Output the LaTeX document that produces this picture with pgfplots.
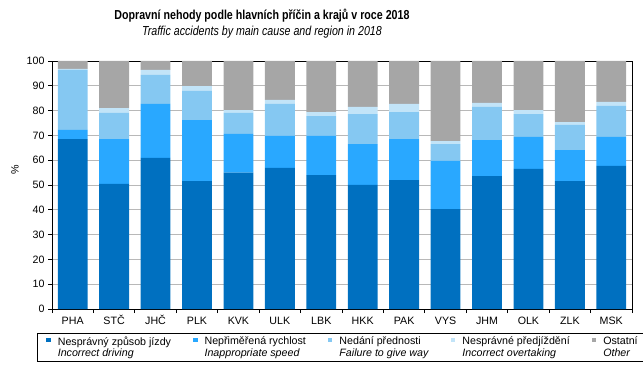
\documentclass[border=0pt]{standalone}
\usepackage{pgfplots}
\pgfplotsset{compat=1.18}
\usepackage{pgfplotstable}
\usepackage{fontspec}
\setmainfont{Liberation Sans}
\newfontfamily\narrowfont[FakeStretch=0.82]{Liberation Sans}
\definecolor{cA}{HTML}{0070C0}
\definecolor{cB}{HTML}{29A8FF}
\definecolor{cC}{HTML}{85C8F2}
\definecolor{cD}{HTML}{C2E4F8}
\definecolor{cE}{HTML}{A6A6A6}
\definecolor{gridc}{HTML}{B8B8B8}
\pgfplotstableread{
x a b c d e
0 68.5 3.7 24.2 0.4 3.2
1 50.5 18.0 10.7 1.8 19.0
2 60.9 21.8 11.7 2.0 3.6
3 51.6 24.6 11.8 1.9 10.1
4 55.0 15.6 8.6 1.0 19.8
5 56.9 12.9 12.9 1.6 15.7
6 54.0 15.8 8.0 1.6 20.6
7 50.0 16.5 12.1 2.9 18.5
8 52.0 16.5 10.9 3.3 17.3
9 40.3 19.4 6.8 1.2 32.3
10 53.6 14.5 13.4 1.6 16.9
11 56.5 12.9 9.2 1.6 19.8
12 51.6 12.5 10.1 1.2 24.6
13 57.7 11.7 12.5 1.6 16.5
}\data
\begin{document}
\begin{tikzpicture}
\useasboundingbox (-52bp,-57bp) rectangle (591bp,309bp);
\begin{axis}[
  at={(0,0)}, anchor=south west,
  scale only axis, width=580bp, height=248bp,
  ybar stacked, bar width=0.72,
  xmin=-0.5, xmax=13.5, ymin=0, ymax=100,
  xtick={0,...,13},
  xticklabels={PHA,STČ,JHČ,PLK,KVK,ULK,LBK,HKK,PAK,VYS,JHM,OLK,ZLK,MSK},
  minor xtick={-0.5,0.5,...,13.5},
  ytick={0,10,...,100},
  tick align=outside, xtick pos=bottom, ytick pos=left,
  major tick length=4bp, minor tick length=4bp,
  every major x tick/.append style={draw=none},
  tick style={black, line width=0.8bp},
  ymajorgrids, major grid style={gridc, line width=0.8bp},
  axis line style={black, line width=0.9bp},
  /pgf/number format/assume math mode=true,
  tick label style={font=\fontsize{10.67bp}{12bp}\selectfont},
  xticklabel style={text height=8bp, text depth=1bp},
  ylabel={\%}, ylabel style={font=\fontsize{10.67bp}{12bp}\selectfont, at={(-0.064,0.56)}, anchor=center},
  title={{\narrowfont\bfseries Dopravní nehody podle hlavních příčin a krajů v roce 2018}\\{\narrowfont\itshape Traffic accidents by main cause and region in 2018}},
  title style={font=\fontsize{13bp}{16bp}\selectfont, align=center, at={(0.362,1)}, anchor=south, inner sep=0pt, yshift=17bp},
  legend columns=5,
  legend image code/.code={\fill[#1] (0bp,5.2bp) rectangle (4.5bp,9.7bp);},
  legend style={at={(-0.026,-0.097)}, anchor=north west, draw=black, line width=0.8bp,
    font=\fontsize{10.67bp}{11.5bp}\selectfont,
    inner xsep=9bp, inner ysep=1bp,
    cells={anchor=west, align=left, inner ysep=1bp, inner xsep=2bp},
    /tikz/every even column/.append style={column sep=20bp},
    /tikz/every odd column/.append style={column sep=5bp}},
]
\addplot[fill=cA, draw=none] table[x=x,y=a]{\data};
\addlegendentry{Nesprávný způsob jízdy\\\textit{Incorrect driving}}
\addplot[fill=cB, draw=none] table[x=x,y=b]{\data};
\addlegendentry{Nepřiměřená rychlost\\\textit{Inappropriate speed}}
\addplot[fill=cC, draw=none] table[x=x,y=c]{\data};
\addlegendentry{Nedání přednosti\\\textit{Failure to give way}}
\addplot[fill=cD, draw=none] table[x=x,y=d]{\data};
\addlegendentry{Nesprávné předjíždění\\\textit{Incorrect overtaking}}
\addplot[fill=cE, draw=none] table[x=x,y=e]{\data};
\addlegendentry{Ostatní\\\textit{Other}}
\end{axis}
\end{tikzpicture}
\end{document}
